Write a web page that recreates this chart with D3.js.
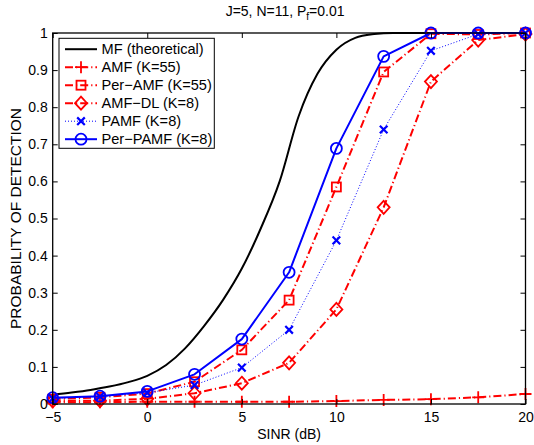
<!DOCTYPE html>
<html><head><meta charset="utf-8">
<script src="https://cdn.jsdelivr.net/npm/d3@7"></script>
<style>
html,body{margin:0;padding:0;background:#fff;}
svg{display:block;font-family:"Liberation Sans",Arial,Helvetica,sans-serif;}
</style></head>
<body>
<svg id="chart" width="534" height="445"></svg>
<script>
// ---- data ----
const snr = [-5, -2.5, 0, 2.5, 5, 7.5, 10, 12.5, 15, 17.5, 20];
const amf     = [0.005, 0.005, 0.006, 0.006, 0.006, 0.006, 0.008, 0.011, 0.013, 0.018, 0.027];
const perAmf  = [0.013, 0.018, 0.028, 0.060, 0.146, 0.280, 0.585, 0.895, 0.998, 0.996, 1.000];
const amfDl   = [0.008, 0.009, 0.014, 0.029, 0.056, 0.111, 0.255, 0.530, 0.869, 0.981, 0.997];
const pamf    = [0.015, 0.020, 0.030, 0.051, 0.098, 0.200, 0.441, 0.740, 0.952, 0.997, 1.000];
const perPamf = [0.017, 0.021, 0.034, 0.080, 0.175, 0.355, 0.689, 0.937, 1.000, 1.000, 1.000];
const mfSnr = [-5,-4,-3,-2,-1,0,1,2,3,4,5,6,7,8,9,10,11,12,13,14,15,16,17,18,19,20];
const mfPd  = [0.025,0.031,0.038,0.047,0.059,0.076,0.105,0.15,0.21,0.28,0.365,0.473,0.60,0.775,0.89,0.955,0.987,0.997,1,1,1,1,1,1,1,1];
const xTicks = [-5, 0, 5, 10, 15, 20];
const yTicks = [0, 0.1, 0.2, 0.3, 0.4, 0.5, 0.6, 0.7, 0.8, 0.9, 1];
const seriesNames = ["MF (theoretical)", "AMF (K=55)", "Per\u2212AMF (K=55)", "AMF\u2212DL (K=8)", "PAMF (K=8)", "Per\u2212PAMF (K=8)"];

// ---- layout ----
const L = 52.7, R = 525.5, T = 33, B = 404;
const svg = d3.select("#chart");
const x = d3.scaleLinear().domain([-5, 20]).range([L, R]);
const y = d3.scaleLinear().domain([0, 1]).range([B, T]);

const RED = "#ff0000", BLUE = "#0000ff";
const dashDot = "8,3,1.2,3";
const series = [
  {name: seriesNames[0], xs: mfSnr, ys: mfPd, color: "#000", dash: null, width: 2, marker: null},
  {name: seriesNames[1], xs: snr, ys: amf, color: RED, dash: dashDot, width: 2, marker: "plus"},
  {name: seriesNames[2], xs: snr, ys: perAmf, color: RED, dash: dashDot, width: 2, marker: "square"},
  {name: seriesNames[3], xs: snr, ys: amfDl, color: RED, dash: dashDot, width: 2, marker: "diamond"},
  {name: seriesNames[4], xs: snr, ys: pamf, color: BLUE, dash: "1,2", width: 1, marker: "x"},
  {name: seriesNames[5], xs: snr, ys: perPamf, color: BLUE, dash: null, width: 2, marker: "circle"}
];

svg.append("rect").attr("x", L).attr("y", T).attr("width", R - L).attr("height", B - T).attr("fill", "#fff");

svg.append("clipPath").attr("id", "clip").append("rect")
  .attr("x", L - 8).attr("y", T - 8).attr("width", R - L + 16).attr("height", B - T + 16);

const plot = svg.append("g").attr("clip-path", "url(#clip)");

function drawMarker(g, type, cx, cy, color) {
  const sw = 1.8;
  if (type === "plus") {
    g.append("path").attr("d", `M${cx-6},${cy}H${cx+6}M${cx},${cy-6}V${cy+6}`)
      .attr("stroke", color).attr("stroke-width", sw).attr("fill", "none");
  } else if (type === "square") {
    g.append("rect").attr("x", cx-4.5).attr("y", cy-4.5).attr("width", 9).attr("height", 9)
      .attr("stroke", color).attr("stroke-width", sw).attr("fill", "none");
  } else if (type === "diamond") {
    g.append("path").attr("d", `M${cx},${cy-6.5}L${cx+6},${cy}L${cx},${cy+6.5}L${cx-6},${cy}Z`)
      .attr("stroke", color).attr("stroke-width", sw).attr("fill", "none");
  } else if (type === "x") {
    g.append("path").attr("d", `M${cx-3.8},${cy-3.8}L${cx+3.8},${cy+3.8}M${cx-3.8},${cy+3.8}L${cx+3.8},${cy-3.8}`)
      .attr("stroke", color).attr("stroke-width", 2.2).attr("fill", "none");
  } else if (type === "circle") {
    g.append("circle").attr("cx", cx).attr("cy", cy).attr("r", 5.5)
      .attr("stroke", color).attr("stroke-width", sw).attr("fill", "none");
  }
}

series.forEach(s => {
  const pts = s.xs.map((v, i) => [v, s.ys[i]]);
  const line = d3.line().x(d => x(d[0])).y(d => y(d[1]))
    .curve(s.marker ? d3.curveLinear : d3.curveMonotoneX);
  plot.append("path").datum(pts).attr("d", line)
    .attr("fill", "none").attr("stroke", s.color).attr("stroke-width", s.width)
    .attr("stroke-dasharray", s.dash).attr("stroke-linejoin", "round");
  if (s.marker) {
    pts.forEach(d => drawMarker(plot, s.marker, x(d[0]), y(d[1]), s.color));
  }
});

const axisG = svg.append("g");
const xb = d3.axisBottom(x).tickValues(xTicks).tickSizeInner(-5).tickSizeOuter(0)
  .tickFormat(d => d < 0 ? "\u2212" + Math.abs(d) : d).tickPadding(8);
const xt = d3.axisTop(x).tickValues(xTicks).tickSizeInner(-5).tickSizeOuter(0).tickFormat("");
const yl = d3.axisLeft(y).tickValues(yTicks).tickSizeInner(-5).tickSizeOuter(0)
  .tickFormat(d => d === 0 ? "0" : d === 1 ? "1" : d3.format(".1f")(d)).tickPadding(5);
const yr = d3.axisRight(y).tickValues(yTicks).tickSizeInner(-5).tickSizeOuter(0).tickFormat("");

function style(g) {
  g.select(".domain").remove();
  g.selectAll("line").attr("stroke", "#000").attr("stroke-width", 1);
  g.selectAll("text").attr("fill", "#000").attr("font-size", "14px")
    .attr("font-family", "Liberation Sans, Arial, sans-serif");
}
axisG.append("g").attr("transform", `translate(0,${B})`).call(xb).call(style);
axisG.append("g").attr("transform", `translate(0,${T})`).call(xt).call(style);
axisG.append("g").attr("transform", `translate(${L},0)`).call(yl).call(style);
axisG.append("g").attr("transform", `translate(${R},0)`).call(yr).call(style);
axisG.append("rect").attr("x", L).attr("y", T).attr("width", R - L).attr("height", B - T)
  .attr("fill", "none").attr("stroke", "#000").attr("stroke-width", 1.3);

svg.append("text").attr("x", (L + R) / 2).attr("y", 439).attr("text-anchor", "middle")
  .attr("font-size", "14px").text("SINR (dB)");
svg.append("text").attr("transform", `translate(21,${(T + B) / 2}) rotate(-90)`)
  .attr("text-anchor", "middle").attr("font-size", "15.5px").text("PROBABILITY OF DETECTION");
const title = svg.append("text").attr("x", (L + R) / 2 - 4).attr("y", 16).attr("text-anchor", "middle")
  .attr("font-size", "14px");
title.append("tspan").text("J=5, N=11, P");
title.append("tspan").attr("font-size", "10px").attr("dy", 4).text("f");
title.append("tspan").attr("dy", -4).text("=0.01");

const lg = svg.append("g");
const lx = 59, ly = 38.3, lw = 155.3, lh = 110;
lg.append("rect").attr("x", lx).attr("y", ly).attr("width", lw).attr("height", lh)
  .attr("fill", "#fff").attr("stroke", "#000").attr("stroke-width", 1);
series.forEach((s, i) => {
  const ry = 49.2 + i * 18;
  lg.append("line").attr("x1", 65).attr("x2", 97).attr("y1", ry).attr("y2", ry)
    .attr("stroke", s.color).attr("stroke-width", s.width).attr("stroke-dasharray", s.dash);
  if (s.marker) drawMarker(lg, s.marker, 81, ry, s.color);
  lg.append("text").attr("x", 101.5).attr("y", ry + 5).attr("font-size", "14.6px").text(s.name);
});
</script>
</body></html>
